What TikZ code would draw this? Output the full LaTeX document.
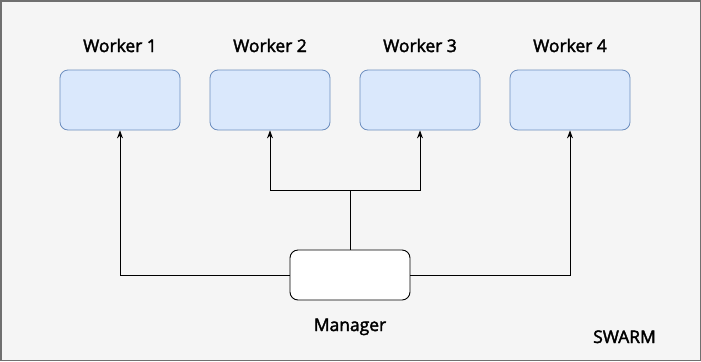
\documentclass[tikz,border=0pt]{standalone}
\usepackage{fontspec}
\setmainfont{Open Sans}[FakeBold=2.2]
\usetikzlibrary{arrows.meta}
\definecolor{bgc}{HTML}{F5F5F5}
\definecolor{wfill}{HTML}{DAE8FC}
\definecolor{wdraw}{HTML}{6C8EBF}
\definecolor{frame}{HTML}{707070}
\begin{document}
\begin{tikzpicture}[x=1bp,y=-1bp,
  workerbox/.style={draw=wdraw,fill=wfill,rounded corners=8bp,minimum width=120bp,minimum height=60bp,line width=0.8bp,inner sep=0pt},
  mgrbox/.style={draw=black,fill=white,rounded corners=8bp,minimum width=120bp,minimum height=50bp,line width=0.9bp,inner sep=0pt},
  lbl/.style={font=\fontsize{17.5}{20}\selectfont,inner sep=0pt,anchor=base,text=black},
  conn/.style={draw=black,line width=0.9bp},
  arr/.style={conn,-{Stealth[length=8bp,width=6bp]}}]
\fill[bgc] (0,0) rectangle (701,361);
\draw[frame,line width=1.5bp] (0.75,0.75) rectangle (700.25,360.25);
\useasboundingbox (0,0) rectangle (701,361);
\node[workerbox] (w1) at (120,100) {};
\node[workerbox] (w2) at (270,100) {};
\node[workerbox] (w3) at (420,100) {};
\node[workerbox] (w4) at (570,100) {};
\node[lbl] (l1) at (120,52) {Worker 1};
\node[lbl] (l2) at (270,52) {Worker 2};
\node[lbl] (l3) at (420,52) {Worker 3};
\node[lbl] (l4) at (570,52) {Worker 4};
\node[mgrbox] (m) at (350,275) {};
\node[lbl] (ml) at (350,331) {Manager};
\node[lbl] (sw) at (624.5,343) {SWARM};
\coordinate (j) at (350,190);
\draw[arr] (m.west) -| (w1.south);
\draw[arr] (m.east) -| (w4.south);
\draw[conn] (m.north) -- (j);
\draw[arr] (j) -| (w2.south);
\draw[arr] (j) -| (w3.south);
\end{tikzpicture}
\end{document}
